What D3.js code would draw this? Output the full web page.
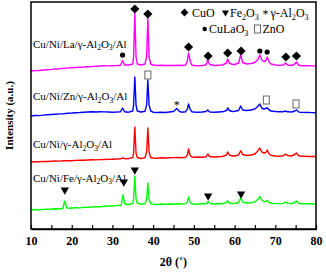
<!DOCTYPE html>
<html>
<head>
<meta charset="utf-8">
<script src="https://cdn.jsdelivr.net/npm/d3@7"></script>
<style>
  body { margin: 0; background: #fff; }
  svg { display: block; font-family: "Liberation Serif", "Times New Roman", serif; }
</style>
</head>
<body>
<div id="chart-container"></div>
<script>
// ----- DATA (2θ in degrees, intensity in a.u. with each pattern stacked) -----
let greenPattern = [
  [10,19],[11,19.5],[12,19],[13,19.6],[14,19.8],[15,20],[16,20.3],[17,20],[17.8,20.5],[18.3,28],[18.8,21],[19.5,20.8],
  [20,21],[21,21.3],[22,21.1],[23,21.6],[24,21.8],[25,22],[26,22.4],[27,22.2],[28,22.7],[29,23],[30,23],[31,23.4],
  [32,23.8],[32.2,24.5],[32.6,34],[33,25.5],[33.5,24.5],[34,24.5],[35,25.5],[35.2,30],[35.5,53],[35.8,30],[36.1,26],
  [37,24.8],[38,25.2],[38.4,30],[38.7,46],[39,30],[39.4,25.5],[40,24.8],[41,24.5],[42,25],[43,24.6],[44,25],[45,24.8],
  [46,25.2],[47,25],[48,25.4],[48.4,27],[48.7,32],[49.1,26.5],[49.5,25.2],[50,25],[51,24.8],[52,25.2],[53,25.3],
  [53.5,27.5],[54,25.5],[55,25],[56,25.2],[57,25.3],[58,26.5],[58.3,28],[58.7,26],[59.5,25.5],[60,25.5],[61,26.5],
  [61.5,31],[62,27],[63,26],[64,26.2],[65,27],[65.8,30],[66.2,32.5],[66.7,29],[67.2,27.5],[67.7,27.5],[68,28.5],
  [68.5,26.5],[69,25.8],[70,25.5],[71,25.4],[72,25.6],[72.5,27],[73,25.8],[74,25.4],[74.8,26.5],[75.2,28],[75.7,25.8],
  [76,25.4],[77,25.2],[78,25.3],[79,25],[80,25.2]
];

let redPattern = [
  [10,67],[11,67.3],[12,67.2],[13,67.6],[14,67.5],[15,67.8],[16,68],[17,67.9],[18,68.2],[19,68.4],[20,68.3],[21,68.6],
  [22,68.8],[23,68.7],[24,69],[25,69.2],[26,69.1],[27,69.4],[28,69.5],[29,69.6],[30,69.8],[31,70],[32,70.1],[32.5,71],
  [33,70.3],[34,70.4],[35,71.5],[35.2,76],[35.5,102],[35.8,76],[36.1,71.5],[37,70.5],[38,71.2],[38.4,77],[38.7,101],
  [39,77],[39.4,71.5],[40,71],[41,70.8],[42,71.2],[43,71],[44,71.3],[45,71.4],[46,71.5],[47,71.3],[48,71.8],[48.4,74],
  [48.7,80],[49.1,73.5],[49.5,72],[50,71.8],[51,72],[52,71.8],[53,72.2],[53.4,75],[53.9,72.5],[55,72],[56,72.3],
  [57,72.5],[58,74],[58.3,77],[58.7,74],[59.5,73],[60,73],[61,74],[61.5,78.3],[62,74.5],[63,73.5],[64,74],[65,75],
  [65.8,78.5],[66.2,81],[66.7,77],[67.2,76],[67.7,76.5],[68,79],[68.5,75],[69,73.5],[70,73],[71,72.8],[72,73.3],
  [72.5,75],[73,73.5],[74,73],[74.8,74.5],[75.2,76],[75.7,73.5],[76,73],[77,72.8],[78,72.5],[79,72.6],[80,72.5]
];

let bluePattern = [
  [10,113],[11,113.5],[12,113.4],[13,113.9],[14,114.2],[15,114.5],[16,114.8],[17,115.1],[18,115.3],[19,115.8],[20,116],
  [21,116.3],[22,116.5],[23,116.8],[24,117],[25,117.2],[26,117],[27,117.3],[28,117.1],[29,117],[30,116.8],[31,117],
  [32,117.3],[32.5,121],[33,117.2],[34,116.8],[35,118],[35.2,124],[35.5,152],[35.8,124],[36.1,118],[37,117],[38,117.8],
  [38.4,124],[38.7,149],[39,124],[39.4,118],[40,116.8],[41,116.5],[42,116.8],[43,116.5],[44,117],[45,117.5],[45.8,120.5],
  [46.5,117.5],[47,116.8],[48,117.3],[48.4,120],[48.7,125],[49.1,119.5],[49.5,117.3],[50,117],[51,116.8],[52,117],
  [53,117.5],[53.4,119],[53.9,117],[55,116.8],[56,117],[57,117.2],[58,118.5],[58.3,121],[58.7,118.5],[59.5,117.5],
  [60,117.8],[61,118.5],[61.5,123],[62,119],[63,118.5],[64,119],[65,120],[65.8,123],[66.2,125],[66.7,121],[67.2,120],
  [67.7,120.5],[68,121.3],[68.5,119],[69,118],[70,117.5],[71,117.2],[72,117.3],[72.5,118],[73,117.2],[74,117],
  [74.8,118],[75.2,119],[75.7,117.2],[76,116.8],[77,116.6],[78,116.5],[79,116.4],[80,116.3]
];

let magentaPattern = [
  [10,158],[11,158.4],[12,158.5],[13,159],[14,159.3],[15,159.6],[16,160],[17,160.2],[18,160.6],[19,161],[20,161.2],
  [21,161.5],[22,161.8],[23,162],[24,162.3],[25,162.5],[26,162.8],[27,163],[28,163.2],[29,163.1],[30,163.3],[31,163.5],
  [32,163.8],[32.5,168.5],[33,164],[34,164],[35,165],[35.2,172],[35.5,216],[35.8,172],[36.1,165],[37,164],[38,165],
  [38.4,172],[38.7,211],[39,172],[39.4,165],[40,164],[41,163.5],[42,163.8],[43,163.5],[44,163.6],[45,163.5],[46,163.8],
  [47,163.5],[48,164],[48.4,168],[48.7,176],[49.1,167.5],[49.5,164],[50,163.5],[51,163.3],[52,163.5],[53,164],
  [53.4,169],[53.9,164.5],[55,163.5],[56,163.8],[57,164],[58,166],[58.3,170],[58.7,166],[59.5,164.5],[60,164.5],
  [61,166],[61.5,174],[62,166.5],[63,165],[64,165.5],[65,166.5],[65.8,170],[66.2,174],[66.7,169],[67.2,167.5],
  [67.7,168.5],[68,172],[68.5,167],[69,165],[70,164],[71,163.6],[72,164],[72.5,166],[73,164],[74,163.5],[74.8,165],
  [75.2,167],[75.7,164],[76,163.5],[77,163.3],[78,163.2],[79,163.1],[80,163]
];

let seriesNames = ["Cu/Ni/La/γ-Al_2O_3/Al", "Cu/Ni/Zn/γ-Al_2O_3/Al", "Cu/Ni/γ-Al_2O_3/Al", "Cu/Ni/Fe/γ-Al_2O_3/Al"];
let seriesColors = ["#ff00ff", "#0000ff", "#ff0000", "#00ff00"];
let seriesLabelLevel = [181.3, 129, 81, 47.3];   // a.u. where each name sits

// phase markers: [2θ, intensity, phase]
let phaseMarks = [
  [35.5,220,"CuO"],[38.7,215,"CuO"],[32.5,174,"CuLaO3"],[48.7,182,"CuO"],[53.5,173,"CuO"],[58.3,176,"CuO"],
  [61.6,178,"CuO"],[66.2,178,"CuLaO3"],[68.0,177,"CuLaO3"],[72.6,172,"CuO"],[75.2,173,"CuO"],
  [45.8,125,"Al2O3"],[38.7,154,"ZnO"],[67.8,129,"ZnO"],[75.1,125,"ZnO"],
  [18.3,39,"Fe2O3"],[32.8,47,"Fe2O3"],[35.5,59,"Fe2O3"],[53.5,33,"Fe2O3"],[61.6,35,"Fe2O3"]
];

let legendRow1 = [["CuO","CuO"],["Fe2O3","Fe_2O_3"],["Al2O3","γ-Al_2O_3"]];
let legendRow2 = [["CuLaO3","CuLaO_3"],["ZnO","ZnO"]];

let xTicks = [10,15,20,25,30,35,40,45,50,55,60,65,70,75,80];

// ----- LAYOUT -----
let width = 326,
    height = 273;

let margin = { top: 2, bottom: 44, left: 31, right: 10 };
let plotW = width - margin.left - margin.right,
    plotH = height - margin.top - margin.bottom;

let svg = d3.select("#chart-container")
            .append("svg")
            .attr("width", width)
            .attr("height", height);

let g = svg.append("g")
           .attr("transform", `translate(${margin.left},${margin.top})`);

// ----- SCALES -----
let xScale = d3.scaleLinear().domain([10, 80]).range([0, plotW]);
let yScale = d3.scaleLinear().domain([0, 227]).range([plotH, 0]);

// text with _n subscripts
function richText(sel, str, size) {
  let parts = str.split(/_(\d)/);
  parts.forEach((p, i) => {
    if (p === "") return;
    let sub = i % 2 === 1;
    sel.append("tspan")
       .attr("font-size", sub ? size * 0.68 : size)
       .attr("dy", sub ? size * 0.25 : (i > 1 ? -size * 0.25 : 0))
       .text(p);
  });
}

// ----- PATTERNS -----
let line = d3.line()
    .x(d => xScale(d[0]))
    .y(d => yScale(d[1]));

[magentaPattern, bluePattern, redPattern, greenPattern].forEach((data, i) => {
  g.append("path")
   .datum(data)
   .attr("d", line)
   .attr("fill", "none")
   .attr("stroke", seriesColors[i])
   .attr("stroke-width", 1.4)
   .attr("stroke-linejoin", "round");

  let t = g.append("text")
           .attr("x", xScale(10.5))
           .attr("y", yScale(seriesLabelLevel[i]))
           .attr("fill", "#000");
  richText(t, seriesNames[i], 11);
});

// ----- MARKERS -----
function drawMark(sel, phase, cx, cy, small) {
  let k = small ? 0.85 : 1;
  if (phase === "CuO") {
    sel.append("path")
       .attr("d", d3.symbol().type(d3.symbolSquare).size(42 * k * k)())
       .attr("transform", `translate(${cx},${cy}) rotate(45)`)
       .attr("fill", "#000");
  } else if (phase === "Fe2O3") {
    sel.append("path")
       .attr("d", d3.symbol().type(d3.symbolTriangle).size(30 * k * k)())
       .attr("transform", `translate(${cx},${cy}) rotate(180)`)
       .attr("fill", "#000");
  } else if (phase === "CuLaO3") {
    sel.append("circle")
       .attr("cx", cx).attr("cy", cy).attr("r", 2.6 * k)
       .attr("fill", "#000");
  } else if (phase === "ZnO") {
    sel.append("rect")
       .attr("x", cx - 3).attr("y", cy - 4)
       .attr("width", 6).attr("height", 8)
       .attr("fill", "#fff")
       .attr("stroke", "#666")
       .attr("stroke-width", 1);
  } else if (phase === "Al2O3") {
    sel.append("text")
       .attr("x", cx).attr("y", cy + 5)
       .attr("text-anchor", "middle")
       .attr("font-size", 12)
       .text("*");
  }
}

phaseMarks.forEach(m => drawMark(g, m[2], xScale(m[0]), yScale(m[1]), false));

// ----- FRAME + AXES -----
g.append("rect")
 .attr("width", plotW)
 .attr("height", plotH)
 .attr("fill", "none")
 .attr("stroke", "#000")
 .attr("stroke-width", 1.5);

let xAxis = g.append("g")
    .attr("transform", `translate(0,${plotH})`)
    .call(d3.axisBottom(xScale)
            .tickValues(xTicks)
            .tickSizeInner(-4)
            .tickSizeOuter(0)
            .tickPadding(7)
            .tickFormat(d => d % 10 === 0 ? d : ""));

xAxis.select(".domain").attr("stroke-width", 1.5);
xAxis.selectAll(".tick line").attr("stroke-width", 1.2);
xAxis.selectAll("text")
     .style("font-family", "Liberation Serif, serif")
     .style("font-size", "12px")
     .style("font-weight", "bold")
     .attr("fill", "#000");

// ----- AXIS LABELS -----
svg.append("text")
   .attr("x", margin.left + plotW / 2)
   .attr("y", 266)
   .attr("text-anchor", "middle")
   .style("font-size", "12px")
   .style("font-weight", "bold")
   .text("2θ (˚)");

svg.append("text")
   .attr("transform", `translate(12.5,${margin.top + plotH / 2}) rotate(-90)`)
   .attr("text-anchor", "middle")
   .style("font-size", "11px")
   .style("font-weight", "bold")
   .text("Intensity (a.u.)");

// ----- LEGEND -----
let legend = svg.append("g");
let row1X = [[184.5, 192], [225.5, 230], [265.5, 270.5]];
let row2X = [[204.7, 209], [257.5, 262.5]];

legendRow1.forEach((d, i) => {
  drawMark(legend, d[0], row1X[i][0], d[0] === "Al2O3" ? 13 : 12.5, true);
  let t = legend.append("text").attr("x", row1X[i][1]).attr("y", 17);
  richText(t, d[1], 12);
});
legendRow2.forEach((d, i) => {
  drawMark(legend, d[0], row2X[i][0], 29, true);
  let t = legend.append("text").attr("x", row2X[i][1]).attr("y", 33);
  richText(t, d[1], 12);
});
</script>
</body>
</html>
